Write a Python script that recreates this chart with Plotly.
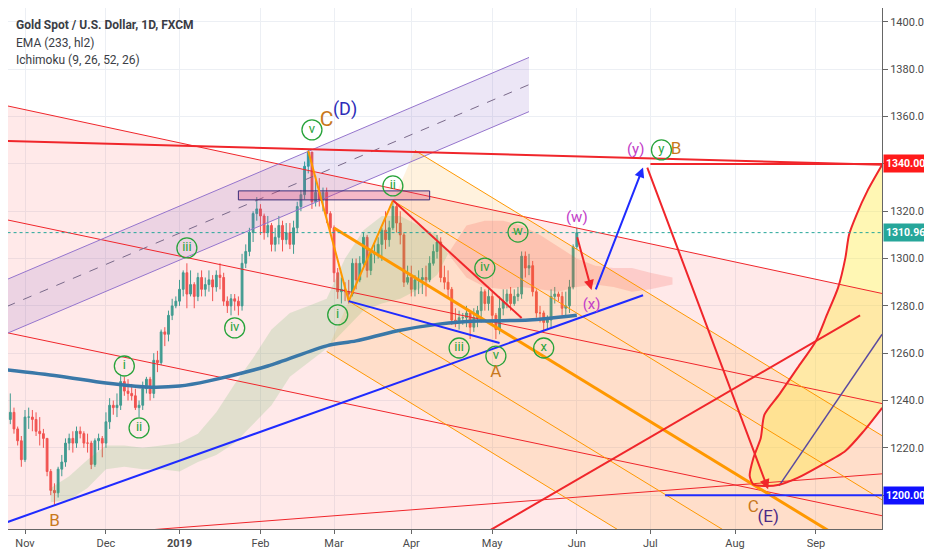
import pandas as pd
import plotly.graph_objects as go

# XAUUSD daily candles (FXCM): Oct 25 2018 -> Jun 3 2019
holidays = ["2018-12-25", "2019-01-01"]
days = pd.bdate_range("2018-10-25", "2019-06-03")
days = days[~days.isin(pd.to_datetime(holidays))]

opens = [
    1232, 1232, 1235, 1228, 1223,
    1215, 1233, 1233, 1232, 1227, 1226, 1224, 1210, 1202, 1201, 1211, 1214, 1222, 1224, 1222, 1227, 1226, 1222, 1222, 1213, 1223, 1224,
    1222, 1231, 1238, 1237, 1238, 1248, 1244, 1243, 1242, 1237, 1238, 1245, 1249, 1243, 1257, 1256, 1269, 1268, 1276, 1280,
    1282, 1287, 1294, 1285, 1289, 1284, 1292, 1287, 1289, 1291, 1288, 1293, 1292, 1282, 1280, 1283, 1282, 1280, 1298, 1303, 1311, 1319,
    1321, 1318, 1311, 1314, 1306, 1309, 1314, 1308, 1311, 1306, 1313, 1322, 1327, 1339, 1345, 1324, 1328, 1325, 1328, 1319,
    1313, 1294, 1286, 1287, 1286, 1285, 1298, 1291, 1298, 1309, 1295, 1302, 1302, 1306, 1312, 1308, 1313, 1322, 1315, 1310, 1290,
    1292, 1287, 1291, 1291, 1292, 1291, 1298, 1303, 1307, 1292, 1290, 1287, 1274, 1273, 1275, 1275, 1277, 1271, 1275, 1278, 1286, 1281,
    1284, 1276, 1270, 1279, 1282, 1285, 1281, 1284, 1285, 1301, 1296, 1297, 1286, 1277, 1277, 1273, 1274, 1284, 1285, 1284, 1279, 1280, 1288,
    1305,
]
highs = [
    1236, 1243, 1237, 1229, 1225,
    1236, 1237, 1236, 1235, 1233, 1228, 1224, 1211, 1205, 1212, 1217, 1224, 1226, 1227, 1229, 1229, 1227, 1226, 1223, 1224, 1226, 1225,
    1235, 1241, 1240, 1243, 1251, 1250, 1249, 1247, 1245, 1240, 1248, 1250, 1250, 1260, 1261, 1270, 1271, 1278, 1283, 1284,
    1291, 1295, 1298, 1295, 1290, 1294, 1295, 1292, 1295, 1293, 1295, 1298, 1294, 1284, 1285, 1285, 1284, 1302, 1306, 1313, 1320, 1326,
    1323, 1319, 1318, 1315, 1313, 1318, 1316, 1315, 1315, 1316, 1324, 1329, 1341, 1346, 1345, 1335, 1334, 1330, 1330, 1320,
    1314, 1296, 1292, 1290, 1291, 1300, 1300, 1301, 1311, 1310, 1304, 1306, 1309, 1313, 1320, 1316, 1324, 1323, 1320, 1311, 1297,
    1297, 1293, 1295, 1296, 1297, 1301, 1306, 1310, 1309, 1297, 1295, 1288, 1279, 1278, 1277, 1280, 1278, 1279, 1280, 1288, 1287, 1287,
    1286, 1277, 1284, 1287, 1287, 1288, 1287, 1288, 1303, 1303, 1302, 1299, 1287, 1280, 1278, 1276, 1287, 1288, 1286, 1286, 1286, 1291, 1306,
    1313,
]
lows = [
    1227, 1230, 1226, 1221, 1212,
    1214, 1228, 1227, 1225, 1221, 1220, 1208, 1200, 1196, 1199, 1208, 1212, 1219, 1218, 1220, 1224, 1220, 1218, 1211, 1212, 1219, 1216,
    1220, 1228, 1234, 1233, 1236, 1242, 1240, 1240, 1236, 1233, 1236, 1243, 1240, 1241, 1252, 1255, 1263, 1265, 1274, 1279,
    1280, 1284, 1279, 1284, 1279, 1282, 1284, 1284, 1286, 1282, 1286, 1287, 1280, 1277, 1276, 1278, 1276, 1278, 1296, 1301, 1307, 1316,
    1310, 1308, 1309, 1303, 1303, 1306, 1303, 1306, 1304, 1302, 1311, 1320, 1325, 1336, 1321, 1322, 1322, 1320, 1315, 1311,
    1290, 1283, 1281, 1282, 1281, 1284, 1287, 1290, 1297, 1292, 1293, 1298, 1300, 1299, 1304, 1305, 1312, 1311, 1306, 1288, 1289,
    1284, 1284, 1285, 1285, 1284, 1290, 1297, 1300, 1290, 1287, 1283, 1272, 1271, 1270, 1272, 1271, 1266, 1269, 1271, 1273, 1278, 1278,
    1272, 1266, 1268, 1276, 1279, 1278, 1280, 1282, 1283, 1292, 1293, 1284, 1275, 1273, 1269, 1270, 1271, 1281, 1282, 1276, 1276, 1277, 1287,
    1304,
]
closes = [
    1232, 1235, 1228, 1223, 1215,
    1233, 1233, 1232, 1227, 1226, 1224, 1210, 1202, 1201, 1211, 1214, 1222, 1224, 1222, 1227, 1226, 1222, 1222, 1213, 1223, 1224, 1222,
    1231, 1238, 1237, 1238, 1248, 1244, 1243, 1242, 1237, 1238, 1245, 1249, 1243, 1257, 1256, 1269, 1268, 1276, 1280, 1282,
    1287, 1294, 1285, 1289, 1284, 1292, 1287, 1289, 1291, 1288, 1293, 1292, 1282, 1280, 1283, 1282, 1280, 1298, 1303, 1311, 1319, 1321,
    1318, 1311, 1314, 1306, 1309, 1314, 1308, 1311, 1306, 1313, 1322, 1327, 1339, 1345, 1324, 1328, 1325, 1328, 1319, 1313,
    1294, 1286, 1287, 1286, 1285, 1298, 1291, 1298, 1309, 1295, 1302, 1302, 1306, 1312, 1308, 1313, 1322, 1315, 1310, 1290, 1292,
    1287, 1291, 1291, 1292, 1291, 1298, 1303, 1307, 1292, 1290, 1287, 1274, 1273, 1275, 1275, 1277, 1271, 1275, 1278, 1286, 1281, 1284,
    1276, 1270, 1279, 1282, 1285, 1281, 1284, 1285, 1301, 1296, 1297, 1286, 1277, 1277, 1273, 1274, 1284, 1285, 1284, 1279, 1280, 1288, 1305,
    1310.96,
]
last_price = 1310.96

# EMA 233 (hl2), sampled along the drawn line
ema_dates = ["2018-10-25", "2018-11-14", "2018-12-03", "2018-12-18", "2019-01-02", "2019-01-14", "2019-02-05",
             "2019-02-27", "2019-03-11", "2019-03-26", "2019-04-11", "2019-04-25", "2019-05-15", "2019-06-03"]
ema_vals = [1253, 1250.4, 1247.4, 1245.7, 1246.1, 1248.3, 1254.6, 1263.1, 1265.2, 1269.4, 1272.4, 1273.6, 1274.0, 1276.0]

# Ichimoku cloud edges (span A / span B), sampled weekly
cloud_dates = ["2018-11-12", "2018-11-19", "2018-11-26", "2018-12-03", "2018-12-10", "2018-12-17", "2018-12-24",
               "2019-01-02", "2019-01-09", "2019-01-16", "2019-01-23", "2019-01-30", "2019-02-06", "2019-02-13",
               "2019-02-20", "2019-02-27", "2019-03-06", "2019-03-13", "2019-03-20", "2019-03-27", "2019-04-03",
               "2019-04-10", "2019-04-15", "2019-04-22", "2019-04-29", "2019-05-06", "2019-05-13", "2019-05-20",
               "2019-05-27", "2019-06-03", "2019-06-10", "2019-06-17", "2019-06-24", "2019-07-01", "2019-07-09"]
span_a = [1203, 1208, 1215, 1221, 1221, 1220, 1221, 1222, 1226, 1235, 1247, 1258, 1270, 1277, 1280, 1283, 1300, 1312,
          1318, 1318, 1314, 1310, 1302, 1292, 1288, 1287, 1288, 1287, 1286, 1288, 1289, 1288, 1286, 1287, 1289]
span_b = [1197, 1198, 1203, 1211, 1212, 1211, 1211, 1210, 1214, 1217, 1222, 1230, 1238, 1250, 1256, 1262, 1270, 1278,
          1281, 1283, 1287, 1293, 1302, 1314, 1316, 1316, 1314, 1310, 1305, 1300, 1297, 1296, 1296, 1294, 1292]

# drawings: (start date, start price, end date, end price)
red_channel = [
    ("2018-10-25", 1364.6, "2019-09-30", 1283.9),
    ("2018-10-25", 1316.4, "2019-09-30", 1237.4),
    ("2018-10-25", 1268.7, "2019-09-30", 1190.0),
    ("2018-10-25", 1180.7, "2019-09-30", 1209.5),
]
red_bold = [
    ("2018-10-25", 1349.7, "2019-09-30", 1339.5),
    ("2019-07-01", 1340.0, "2019-09-30", 1340.0),
    ("2019-03-25", 1324.6, "2019-05-13", 1274.9),
    ("2019-04-26", 1183.0, "2019-09-18", 1276.0),
]
blue_lines = [
    ("2018-10-25", 1188.5, "2019-06-27", 1284.5),
    ("2019-03-07", 1282.0, "2019-05-03", 1264.3),
    ("2019-07-05", 1200.0, "2019-09-30", 1200.0),
]
violet_line = ("2019-08-19", 1204.0, "2019-09-26", 1268.0)

rising_upper = ("2018-10-25", 1291.1, "2019-05-15", 1385.0)
rising_mid = ("2018-10-25", 1279.7, "2019-05-15", 1373.5)
rising_lower = ("2018-10-25", 1268.3, "2019-05-15", 1362.1)

zone = ("2019-01-24", 1328.6, "2019-04-08", 1324.8)

zigzag_dates = ["2019-02-20", "2019-03-07", "2019-03-25"]
zigzag_prices = [1345.5, 1282.0, 1324.5]

fork_start_dates = ["2019-04-02", "2019-03-25", "2019-03-01", "2019-03-07", "2019-02-27"]
fork_start_prices = [1345.7, 1324.5, 1312.9, 1282.0, 1260.75]
fork_end_date = "2019-09-30"
fork_end_prices = [1221.3, 1194.2, 1167.3, 1140.5, 1113.2]

# projected path (curved brush) for the (E) bottom
curve_dates = ["2019-09-26", "2019-09-20", "2019-09-17", "2019-09-13", "2019-09-12", "2019-09-10", "2019-09-05",
               "2019-09-02", "2019-08-26", "2019-08-19", "2019-08-13", "2019-08-12", "2019-08-08", "2019-08-07",
               "2019-08-08", "2019-08-13", "2019-08-19", "2019-08-26", "2019-09-03", "2019-09-12", "2019-09-19",
               "2019-09-26"]
curve_prices = [1339.6, 1328.6, 1318.4, 1310.1, 1300.3, 1287.6, 1276.3, 1265.2, 1253.8, 1242.5, 1234.0, 1224.2,
                1215.7, 1208.1, 1204.5, 1203.9, 1204.4, 1207.3, 1212.3, 1218.7, 1227.1, 1236.9]

# arrows: (tail date, tail price, head date, head price)
blue_arrow = ("2019-06-10", 1286.3, "2019-06-27", 1338.5)
red_arrows = [
    ("2019-06-03", 1309.6, "2019-06-07", 1286.7),
    ("2019-06-28", 1339.1, "2019-08-14", 1202.5),
]

# Elliott wave labels
wave_text = ["v", "ii", "i", "iii", "iv", "i", "ii", "iii", "v", "x", "iv", "w", "y"]
wave_dates = ["2019-02-21", "2019-03-25", "2019-03-04", "2019-01-04", "2019-01-23", "2018-12-10", "2018-12-14",
              "2019-04-18", "2019-05-02", "2019-05-21", "2019-04-29", "2019-05-10", "2019-07-04"]
wave_prices = [1354.4, 1330.7, 1276.2, 1304.5, 1270.7, 1254.6, 1228.4, 1262.2, 1258.8, 1262.2, 1296.0, 1311.2, 1345.9]

mark_text = ["C", "(D)", "B", "A", "(w)", "(x)", "(y)", "B", "C", "(E)"]
mark_dates = ["2019-02-27", "2019-03-06", "2018-11-13", "2019-05-02", "2019-06-03", "2019-06-07", "2019-06-25",
              "2019-07-10", "2019-08-08", "2019-08-14"]
mark_prices = [1358.2, 1362.4, 1188.9, 1251.6, 1317.2, 1280.4, 1345.9, 1345.9, 1194.6, 1190.4]

tick_dates = ["2018-11-01", "2018-12-03", "2019-01-02", "2019-02-01", "2019-03-01", "2019-04-01", "2019-05-01",
              "2019-06-03", "2019-07-01", "2019-08-01", "2019-09-02"]
tick_names = ["Nov", "Dec", "<b>2019</b>", "Feb", "Mar", "Apr", "May", "Jun", "Jul", "Aug", "Sep"]
price_ticks = list(range(1200, 1401, 20))
tagged_prices = [1340, last_price, 1200]

# styles
RED = "#f0262b"
ORANGE = "#ff9800"
BLUE = "#1f2bff"
TEAL = "#26a69a"
GREEN = "#27a33a"
FONT = "Roboto, Liberation Sans, sans-serif"
mark_colors = ["#c8781c", "#2d2db8", "#c8781c", "#c8781c", "#c23cc8", "#c23cc8", "#c23cc8", "#c8781c", "#c8781c", "#4b2a86"]
mark_sizes = [21, 18, 17, 17, 15, 15, 15, 17, 17, 17]
tag_colors = ["#ff1a1a", TEAL, "#1010ff"]

fig = go.Figure()


def line(seg, color, width=1, dash="solid"):
    fig.add_trace(go.Scatter(x=[seg[0], seg[2]], y=[seg[1], seg[3]], mode="lines",
                             line=dict(color=color, width=width, dash=dash), hoverinfo="skip"))


def area(xs, ys, color):
    fig.add_trace(go.Scatter(x=xs, y=ys, mode="lines", fill="toself", fillcolor=color,
                             line=dict(width=0), hoverinfo="skip"))


# background fills
top = red_channel[0]
area([top[0], top[2], top[2], top[0]], [top[1], top[3], 1100, 1100], "rgba(255,82,82,0.13)")
area([rising_upper[0], rising_upper[2], rising_lower[2], rising_lower[0]],
     [rising_upper[1], rising_upper[3], rising_lower[3], rising_lower[1]], "rgba(126,87,194,0.15)")
area([fork_start_dates[0], fork_end_date, fork_end_date, fork_start_dates[-1]],
     [fork_start_prices[0], fork_end_prices[0], fork_end_prices[-1], fork_start_prices[-1]], "rgba(255,152,0,0.13)")
fig.add_trace(go.Scatter(x=curve_dates, y=curve_prices, mode="lines", fill="toself",
                         fillcolor="rgba(255,235,59,0.38)", line=dict(width=0, shape="spline"), hoverinfo="skip"))

# ichimoku cloud
cross = next(i for i in range(len(span_a)) if span_a[i] <= span_b[i])
for lo, hi, color in [(0, cross + 1, "rgba(76,175,80,0.17)"), (cross, len(span_a), "rgba(244,67,54,0.17)")]:
    fig.add_trace(go.Scatter(x=cloud_dates[lo:hi], y=span_b[lo:hi], mode="lines", line=dict(width=0), hoverinfo="skip"))
    fig.add_trace(go.Scatter(x=cloud_dates[lo:hi], y=span_a[lo:hi], mode="lines", line=dict(width=0),
                             fill="tonexty", fillcolor=color, hoverinfo="skip"))

# thin drawing lines
for seg in red_channel:
    line(seg, RED, 1)
line(rising_upper, "#9575cd", 1)
line(rising_lower, "#9575cd", 1)
line(rising_mid, "#7a6a8a", 1, "dash")
for i in range(len(fork_start_dates)):
    line((fork_start_dates[i], fork_start_prices[i], fork_end_date, fork_end_prices[i]), ORANGE, 3 if i == 2 else 1)

# EMA and candles
fig.add_trace(go.Scatter(x=ema_dates, y=ema_vals, mode="lines",
                         line=dict(color="#3a78a8", width=3.5, shape="spline", smoothing=0.8), hoverinfo="skip"))
fig.add_trace(go.Candlestick(x=days, open=opens, high=highs, low=lows, close=closes,
                             increasing=dict(line=dict(color=TEAL, width=1), fillcolor=TEAL),
                             decreasing=dict(line=dict(color="#ef5350", width=1), fillcolor="#ef5350"),
                             whiskerwidth=0, hoverinfo="skip"))

# zone box
fig.add_trace(go.Scatter(x=[zone[0], zone[2], zone[2], zone[0], zone[0]],
                         y=[zone[1], zone[1], zone[3], zone[3], zone[1]], mode="lines", fill="toself",
                         fillcolor="rgba(220,60,110,0.28)", line=dict(color="#3b2d78", width=1), hoverinfo="skip"))

# bold drawing lines
fig.add_trace(go.Scatter(x=zigzag_dates, y=zigzag_prices, mode="lines", line=dict(color=ORANGE, width=2),
                         hoverinfo="skip"))
for seg in red_bold:
    line(seg, RED, 2)
for seg in blue_lines:
    line(seg, BLUE, 2)
line(violet_line, "#5a4aa0", 1.5)
fig.add_trace(go.Scatter(x=curve_dates, y=curve_prices, mode="lines",
                         line=dict(color=RED, width=2, shape="spline", smoothing=0.7), hoverinfo="skip"))
fig.add_trace(go.Scatter(x=[days[0] - pd.Timedelta(days=3), "2019-09-30"], y=[last_price, last_price], mode="lines",
                         line=dict(color=TEAL, width=1, dash="dot"), hoverinfo="skip"))

for arr, color in [(blue_arrow, BLUE)] + [(a, RED) for a in red_arrows]:
    fig.add_annotation(x=arr[2], y=arr[3], ax=arr[0], ay=arr[1], xref="x", yref="y", axref="x", ayref="y",
                       text="", showarrow=True, arrowhead=2, arrowsize=1, arrowwidth=2, arrowcolor=color)

# labels
fig.add_trace(go.Scatter(x=wave_dates, y=wave_prices, mode="markers+text", text=wave_text,
                         textposition="middle center", textfont=dict(color=GREEN, size=13, family=FONT),
                         marker=dict(symbol="circle-open", size=20, color=GREEN, line=dict(width=1.3)),
                         hoverinfo="skip", cliponaxis=False))
fig.add_trace(go.Scatter(x=mark_dates, y=mark_prices, mode="text", text=mark_text, textposition="middle center",
                         textfont=dict(color=mark_colors, size=mark_sizes, family=FONT),
                         hoverinfo="skip", cliponaxis=False))

# legend block top-left
for i, (txt, bold) in enumerate([("Gold Spot / U.S. Dollar, 1D, FXCM", True), ("EMA (233, hl2)", False),
                                 ("Ichimoku (9, 26, 52, 26)", False)]):
    fig.add_annotation(xref="paper", yref="paper", x=0, y=1, xanchor="left", yanchor="middle",
                       xshift=6, yshift=-17 - 17.5 * i, showarrow=False,
                       text=f"<b>{txt}</b>" if bold else txt, font=dict(size=12, color="#3a3d45", family=FONT))

# price tags on the axis
for val, color in zip(tagged_prices, tag_colors):
    fig.add_annotation(xref="paper", yref="y", x=1, y=val, xanchor="left", yanchor="middle", xshift=1,
                       showarrow=False, text=f"<b>{val:.2f}</b>", bgcolor=color, borderpad=2,
                       font=dict(size=10.5, color="white", family=FONT))

fig.update_layout(
    width=932, height=550,
    margin=dict(l=0, r=58, t=0, b=29),
    paper_bgcolor="white", plot_bgcolor="white",
    showlegend=False, hovermode=False,
    font=dict(family=FONT, size=11, color="#4a4a4a"),
    xaxis=dict(type="date", range=["2018-10-25 09:00", "2019-09-25 23:00"],
               rangebreaks=[dict(bounds=["sat", "mon"]), dict(values=holidays)],
               rangeslider=dict(visible=False),
               tickvals=tick_dates, ticktext=tick_names, showgrid=True, gridcolor="#eceff4",
               ticks="outside", ticklen=4, tickcolor="#666", showline=True, linecolor="#666", zeroline=False),
    yaxis=dict(side="right", range=[1185.7, 1405.9], tickvals=price_ticks,
               ticktext=["" if p in (1200, 1340) else f"{p:.2f}" for p in price_ticks],
               showgrid=True, gridcolor="#eceff4",
               ticks="outside", ticklen=5, tickcolor="#666", showline=True, linecolor="#666", zeroline=False),
)

fig.write_html("out.html")
